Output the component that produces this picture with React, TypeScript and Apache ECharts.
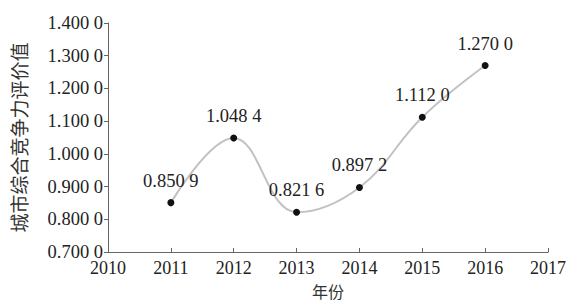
import React, { useEffect, useRef } from "react";
import * as echarts from "echarts";

const years = [2011, 2012, 2013, 2014, 2015, 2016];
const values = [0.8509, 1.0484, 0.8216, 0.8972, 1.112, 1.27];
const xName = "年份";
const yName = "城市综合竞争力评价值";

const fmt4 = (v: number) => {
  const s = v.toFixed(4);
  return s.slice(0, s.length - 1) + " " + s.slice(s.length - 1);
};

export default function App() {
  const ref = useRef<HTMLDivElement>(null);
  useEffect(() => {
    if (!ref.current) return;
    const chart = echarts.init(ref.current, null, { renderer: "svg" });
    const font = "'Liberation Serif', 'Times New Roman', serif";
    chart.setOption({
      animation: false,
      backgroundColor: "#ffffff",
      grid: { left: 108, right: 21, top: 23, bottom: 55, outerBoundsMode: "none", containLabel: false },
      xAxis: {
        type: "value",
        min: 2010,
        max: 2017,
        interval: 1,
        name: xName,
        nameLocation: "middle",
        nameGap: 31,
        nameTextStyle: { fontFamily: "'Noto Sans CJK SC', sans-serif", fontSize: 16, color: "#333" },
        axisLine: { lineStyle: { color: "#666", width: 1 } },
        axisTick: { inside: true, length: 4, lineStyle: { color: "#666" } },
        axisLabel: { fontFamily: font, fontSize: 18, color: "#222", margin: 7, formatter: (v: number) => String(v) },
        splitLine: { show: false },
      },
      yAxis: {
        type: "value",
        min: 0.7,
        max: 1.4,
        interval: 0.1,
        name: yName,
        nameLocation: "middle",
        nameGap: 80,
        nameTextStyle: { fontFamily: "'Noto Sans CJK SC', sans-serif", fontSize: 19, color: "#333" },
        axisLine: { show: true, lineStyle: { color: "#666", width: 1 } },
        axisTick: { show: true, length: 4, lineStyle: { color: "#666" } },
        axisLabel: { fontFamily: font, fontSize: 18.5, color: "#222", margin: 5, formatter: (v: number) => fmt4(v) },
        splitLine: { show: false },
      },
      series: [
        {
          type: "line",
          data: years.map((y, i) => [y, values[i]]),
          smooth: 0.4,
          symbol: "circle",
          symbolSize: 7,
          itemStyle: { color: "#111" },
          lineStyle: { color: "#c2c2c2", width: 2 },
          label: {
            show: true,
            position: "top",
            distance: 9,
            fontFamily: font,
            fontSize: 18.5,
            color: "#222",
            formatter: (p: any) => fmt4(p.value[1]),
          },
        },
      ],
    });
    return () => chart.dispose();
  }, []);
  return <div ref={ref} style={{ width: 569, height: 307, position: "absolute", left: 0, top: 0 }} />;
}
